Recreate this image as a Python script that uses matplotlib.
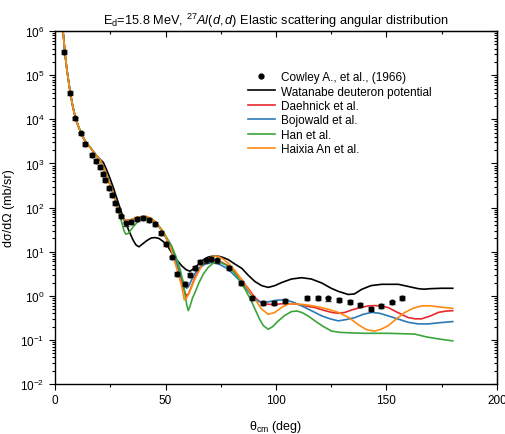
import numpy as np
import matplotlib
matplotlib.use('Agg')
import matplotlib.pyplot as plt
from matplotlib.lines import Line2D
from matplotlib.ticker import LogLocator, MultipleLocator, NullFormatter

plt.rcParams['font.family'] = ['Liberation Sans', 'DejaVu Sans']
plt.rcParams['mathtext.fontset'] = 'custom'
plt.rcParams['mathtext.rm'] = 'Liberation Sans'
plt.rcParams['mathtext.it'] = 'Liberation Sans:italic'

# Cowley et al. (1966) measured points, theta_cm (deg) and dsigma/dOmega (mb/sr)
exp_theta = [3.9, 6.9, 9.2, 11.9, 13.6, 16.9, 18.5, 20.2, 21.6, 22.8, 24.4, 25.8,
             27.2, 28.6, 30.0, 32.2, 34.6, 37.0, 39.8, 42.5, 45.2, 47.8, 50.2, 52.8,
             55.3, 58.8, 61.1, 63.3, 65.8, 68.3, 70.8, 73.5, 78.8, 84.0, 89.2, 93.9,
             98.9, 104.1, 114.1, 118.8, 123.6, 128.5, 133.3, 138.1, 142.9, 147.5,
             152.4, 157.1]
exp_sig = [3.4e5, 3.9e4, 1.05e4, 4.8e3, 2.75e3, 1585, 1148, 832, 575, 417, 282, 191,
           126, 87, 63, 43.6, 46.8, 55, 58.9, 52.5, 41.7, 26.9, 14.8, 7.41,
           3.09, 1.86, 2.95, 4.27, 5.75, 6.31, 6.76, 6.31, 4.27, 2.0, 0.89, 0.68,
           0.68, 0.78, 0.91, 0.91, 0.87, 0.81, 0.72, 0.62, 0.50, 0.59,
           0.71, 0.89]
exp_err = [3.4e4, 3.9e3, 1.0e3, 480, 275, 160, 115, 83, 58, 42, 28, 19,
           13, 8.7, 6.3, 4.4, 4.7, 5.5, 5.9, 5.3, 4.2, 2.7, 1.5, 0.74,
           0.31, 0.19, 0.30, 0.43, 0.58, 0.63, 0.68, 0.63, 0.43, 0.20, 0.09, 0.07,
           0.07, 0.08, 0.09, 0.09, 0.09, 0.08, 0.07, 0.06, 0.05, 0.06,
           0.07, 0.09]

# forward angles, where all potentials agree
fwd_theta = [3.0, 3.8, 4.6, 5.4, 6.2, 6.9, 8.0, 9.2, 10.5, 11.8, 13.2, 14.5, 16.0, 17.5, 19.0]
fwd_sig = [2.2e6, 7.9e5, 2.8e5, 1.3e5, 6.9e4, 4.0e4, 2.0e4, 1.1e4, 7.1e3, 4.8e3,
           3.5e3, 2.8e3, 2.3e3, 1.8e3, 1450]

wat_theta = [21.9, 23.4, 24.9, 26.4, 27.9, 29.5, 31.0, 32.4, 33.8, 35.4, 36.7, 38.0,
             39.5, 41.5, 43.5, 45.2, 47.0, 49.0, 51.0, 52.8, 55.0, 57.3, 59.3, 61.1,
             63.0, 64.9, 67.2, 69.4, 71.5, 73.9, 76.0, 78.4, 81.5, 84.5, 87.5, 90.5,
             93.5, 96.5, 99.5, 102.6, 107.0, 111.6, 116.0, 120.7, 125.0, 128.2,
             132.7, 135.5, 138.8, 143.0, 147.8, 151.5, 155.4, 160.0, 164.4, 167.0,
             170.0, 175.0, 180.0]
wat_sig = [1050, 710, 457, 282, 166, 95, 56, 40, 27, 18, 14.1, 12.9,
           14.8, 17.8, 20.4, 20.9, 20, 17, 13.2, 9.5, 6.6, 4.8, 3.9, 3.6,
           4.2, 5.2, 6.6, 7.6, 7.9, 7.9, 7.4, 6.6, 5.2, 4.2, 2.9, 2.1,
           1.7, 1.55, 1.7, 2.0, 2.4, 2.57, 2.4, 1.95, 1.48, 1.26,
           1.07, 1.1, 1.4, 1.7, 1.82, 1.82, 1.82, 1.62, 1.45, 1.41,
           1.45, 1.48, 1.48]

dae_theta = [20.4, 22.0, 23.4, 24.9, 26.4, 27.7, 28.8, 30.4, 32.0, 33.5, 35.4, 37.5,
             39.5, 41.5, 43.7, 45.5, 47.5, 49.5, 51.3, 53.0, 54.5, 56.0, 57.5, 58.7,
             59.6, 60.5, 61.8, 63.3, 65.5, 67.9, 70.0, 72.4, 75.0, 78.4, 81.5, 84.5,
             87.5, 90.5, 93.0, 95.5, 99.0, 102.6, 106.5, 110.1, 114.0, 117.6, 121.5,
             125.2, 128.5, 131.2, 135.0, 138.8, 142.0, 144.8, 148.0, 150.8, 155.0,
             159.9, 163.0, 165.9, 170.0, 173.5, 177.0, 180.0]
dae_sig = [1200, 790, 525, 330, 205, 126, 85, 60, 51, 51, 55, 59,
           61, 61, 55, 47, 35, 25, 16, 10, 6.0, 3.5, 2.0, 1.2,
           1.0, 1.12, 1.66, 2.6, 4.2, 5.6, 6.3, 6.5, 5.9, 4.8, 3.4, 2.3,
           1.45, 0.91, 0.71, 0.65, 0.63, 0.66, 0.66, 0.64, 0.58, 0.54, 0.47,
           0.42, 0.40, 0.42, 0.49, 0.55, 0.59, 0.60, 0.58, 0.54, 0.42,
           0.32, 0.30, 0.30, 0.35, 0.42, 0.45, 0.46]

boj_theta = [20.4, 22.0, 23.4, 24.9, 26.4, 27.7, 28.8, 30.4, 32.0, 33.5, 35.4, 37.5,
             39.5, 41.5, 43.7, 45.5, 47.5, 49.5, 51.3, 53.0, 54.5, 56.0, 57.5, 58.7,
             59.6, 60.5, 61.8, 63.3, 65.5, 67.9, 70.0, 72.4, 75.0, 78.4, 81.5, 84.5,
             87.5, 90.5, 93.0, 96.0, 100.0, 104.1, 108.0, 111.6, 116.0, 120.7, 124.5,
             128.2, 132.0, 135.7, 139.5, 143.3, 147.0, 150.8, 155.0, 159.9, 164.5,
             168.9, 174.0, 180.0]
boj_sig = [1200, 790, 525, 330, 205, 126, 85, 60, 51, 51, 55, 58,
           60, 60, 54, 46, 34, 24, 16, 10.5, 6.6, 4.0, 2.4, 1.66,
           1.48, 1.66, 2.3, 3.2, 4.4, 5.2, 5.6, 5.6, 5.0, 4.0, 2.8, 2.0,
           1.26, 0.83, 0.72, 0.72, 0.79, 0.81, 0.71, 0.59, 0.46, 0.35, 0.30,
           0.27, 0.29, 0.32, 0.38, 0.42, 0.40, 0.35, 0.30, 0.25, 0.23,
           0.23, 0.245, 0.26]

han_theta = [20.4, 22.0, 23.4, 24.9, 26.4, 27.7, 28.8, 30.2, 31.2, 32.0, 33.2, 35.4,
             37.5, 39.5, 41.5, 43.7, 46.0, 48.3, 50.5, 52.8, 54.8, 56.6, 57.8, 58.8,
             59.6, 60.3, 61.2, 62.2, 63.3, 65.2, 67.1, 69.3, 71.6, 73.5, 75.4, 77.5,
             79.9, 83.0, 86.0, 88.5, 90.5, 92.5, 94.3, 96.5, 98.5, 101.1, 104.0,
             107.1, 109.5, 111.6, 114.5, 117.6, 121.5, 125.2, 129.0, 132.7, 140.0,
             150.8, 157.0, 162.9, 168.0, 173.5, 180.0]
han_sig = [1200, 790, 525, 330, 205, 126, 83, 46, 30, 25, 26, 37,
           48, 56, 59, 55, 44, 32, 21, 13.5, 7.6, 4.0, 2.24, 1.1,
           0.63, 0.46, 0.60, 0.89, 1.17, 2.0, 3.1, 4.4, 5.5, 5.8, 5.6, 4.9,
           4.0, 2.5, 1.41, 0.83, 0.50, 0.30, 0.21, 0.174, 0.20, 0.27, 0.36,
           0.44, 0.45, 0.42, 0.35, 0.27, 0.20, 0.158, 0.148, 0.145, 0.141,
           0.141, 0.138, 0.135, 0.117, 0.105, 0.095]

an_theta = [20.4, 22.0, 23.4, 24.9, 26.4, 27.7, 28.8, 30.4, 32.0, 33.5, 35.4, 37.5,
            39.5, 41.5, 43.7, 45.5, 47.5, 49.5, 51.3, 53.0, 54.3, 55.8, 57.3, 58.5,
            59.3, 60.3, 61.8, 63.3, 64.9, 66.4, 68.2, 70.1, 72.0, 73.9, 76.0, 78.4,
            81.5, 84.5, 87.5, 90.5, 93.5, 96.5, 99.5, 102.6, 106.0, 110.1, 115.0,
            119.2, 124.0, 128.2, 133.0, 137.3, 141.0, 144.8, 148.0, 150.8, 154.5,
            158.4, 162.0, 165.9, 170.0, 175.0, 180.0]
an_sig = [1200, 790, 525, 330, 205, 126, 85, 60, 51, 51, 56, 60,
          63, 63, 56, 47, 35, 25, 16, 9.5, 5.6, 3.2, 1.66, 0.81,
          0.85, 1.05, 1.58, 2.4, 3.47, 4.8, 6.3, 7.4, 7.9, 7.8, 6.8, 5.5,
          3.7, 2.3, 1.38, 0.83, 0.50, 0.38, 0.42, 0.55, 0.66, 0.65, 0.61,
          0.56, 0.49, 0.42, 0.32, 0.22, 0.17, 0.158, 0.178, 0.21, 0.30,
          0.42, 0.52, 0.59, 0.59, 0.55, 0.52]

curves = [
    ('Watanabe deuteron potential', wat_theta, wat_sig, 'black'),
    ('Daehnick et al.', dae_theta, dae_sig, '#e8282c'),
    ('Bojowald et al.', boj_theta, boj_sig, '#2a7ab8'),
    ('Han et al.', han_theta, han_sig, '#3aa63a'),
    ('Haixia An et al.', an_theta, an_sig, '#ff8a12'),
]

fig = plt.figure(figsize=(5.05, 4.35), dpi=100)
ax = fig.add_axes([0.109, 0.115, 0.875, 0.811])

for name, th, sig, col in curves:
    ax.plot(fwd_theta + th, fwd_sig + sig, color=col, lw=1.2, label=name)

ax.errorbar(exp_theta, exp_sig, yerr=exp_err, fmt='o', color='black', ms=3.3,
            ecolor='#333333', elinewidth=1.0, capsize=2.5, capthick=1.0, zorder=5)

ax.set_yscale('log')
ax.set_xlim(0, 200)
ax.set_ylim(1e-2, 1e6)

ax.xaxis.set_major_locator(MultipleLocator(50))
ax.xaxis.set_minor_locator(MultipleLocator(25))
ax.yaxis.set_major_locator(LogLocator(base=10, numticks=20))
ax.yaxis.set_minor_locator(LogLocator(base=10, subs=np.arange(2, 10), numticks=20))
ax.yaxis.set_minor_formatter(NullFormatter())

ax.tick_params(which='both', direction='out', labelsize=8.5, width=0.8)
ax.tick_params(which='major', length=4)
ax.tick_params(which='minor', length=2.5)

# inward ticks on the top and right frame
axt = ax.secondary_xaxis('top')
axt.xaxis.set_major_locator(MultipleLocator(50))
axt.xaxis.set_minor_locator(MultipleLocator(25))
axt.tick_params(which='both', direction='in', labeltop=False, width=0.8)
axt.tick_params(which='major', length=4)
axt.tick_params(which='minor', length=2.5)
axr = ax.secondary_yaxis('right')
axr.yaxis.set_major_locator(LogLocator(base=10, numticks=20))
axr.yaxis.set_minor_locator(LogLocator(base=10, subs=np.arange(2, 10), numticks=20))
axr.tick_params(which='both', direction='in', labelright=False, width=0.8)
axr.tick_params(which='major', length=4)
axr.tick_params(which='minor', length=2.5)
axr.yaxis.set_minor_formatter(NullFormatter())
axr.yaxis.set_major_formatter(NullFormatter())

for s in ax.spines.values():
    s.set_linewidth(1.0)

ax.set_xlabel('θ$_{\\rm cm}$ (deg)', fontsize=9, labelpad=8)
ax.set_ylabel('dσ/dΩ (mb/sr)', fontsize=9, labelpad=4)
ax.set_title('E$_{\\rm d}$=15.8 MeV, $^{27}$$\\it{Al(d,d)}$ Elastic scattering angular distribution',
             fontsize=9.2, pad=5)

dot = Line2D([], [], ls='none', marker='o', color='black', ms=3.5)
handles, labels = ax.get_legend_handles_labels()
ax.legend([dot] + handles, ['Cowley A., et al., (1966)'] + labels,
          loc='upper left', bbox_to_anchor=(0.425, 0.9), frameon=False, fontsize=8.5,
          handlelength=2.3, labelspacing=0.2, handletextpad=0.5, borderaxespad=0)

fig.savefig('out.png', dpi=100)
